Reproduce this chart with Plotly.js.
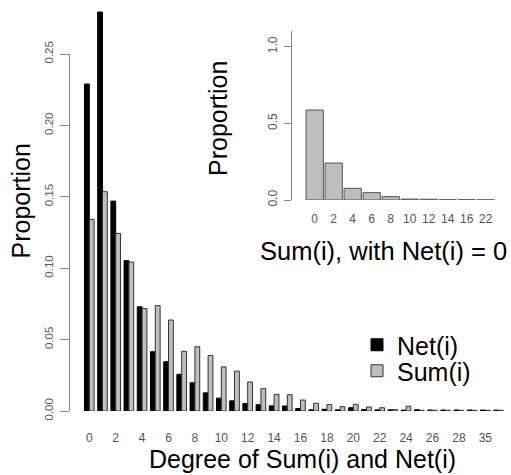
<!DOCTYPE html>
<html>
<head>
<meta charset="utf-8">
<script src="https://cdn.plot.ly/plotly-3.0.1.min.js"></script>
<style>html,body{margin:0;padding:0;background:#fff;}#chart{width:511px;height:475px;}</style>
</head>
<body>
<div id="chart"></div>
<script>
// Main chart: degree categories (every second label shown on axis)
const degreeCats = ["0","1","2","3","4","5","6","7","8","9","10","11","12","13","14","15","16","17","18","19","20","21","22","23","24","25","26","27","28","31","35","40"];
const netValues = [0.229,0.2795,0.147,0.1053,0.073,0.0415,0.0345,0.0257,0.0198,0.0127,0.009,0.0071,0.0052,0.0044,0.0036,0.0035,0.0017,0.0008,0.0012,0.0008,0.0023,0.001,0.0008,0.0008,0.0006,0.0009,0.0007,0.0007,0.0007,0.0007,0.0007,0.0006];
const sumValues = [0.1342,0.1536,0.1244,0.1043,0.0717,0.0738,0.0637,0.0418,0.045,0.0389,0.0309,0.0279,0.0203,0.0157,0.0116,0.0114,0.0077,0.0054,0.0045,0.003,0.0047,0.0028,0.0023,0.0009,0.0033,0.0005,0.0005,0.0005,0.0005,0.0005,0.0005,0.0005];
const degreeTickLabels = ["0","2","4","6","8","10","12","14","16","18","20","22","24","26","28","35"];
const mainYTicks = [0, 0.05, 0.10, 0.15, 0.20, 0.25];
const mainYTickText = ["0.00","0.05","0.10","0.15","0.20","0.25"];

// Inset: Sum(i) distribution for Net(i) = 0
const insetCats = ["0","2","4","6","8","10","12","14","16","22"];
const insetValues = [0.587,0.241,0.076,0.048,0.022,0.006,0.005,0.002,0.002,0.001];
const insetYTicks = [0, 0.5, 1.0];
const insetYTickText = ["0.0","0.5","1.0"];

const W = 511, H = 475;
const FONT = "Liberation Sans, Arial, Helvetica, sans-serif";
const px = v => v / W;
const py = v => (H - v) / H;

const traces = [
  {type:"bar", name:"Net(i)", x:degreeCats, y:netValues, xaxis:"x", yaxis:"y", legend:"legend",
   marker:{color:"#000000", line:{color:"#000000", width:1}}, hoverinfo:"skip"},
  {type:"bar", name:"Sum(i)", x:degreeCats, y:sumValues, xaxis:"x", yaxis:"y", legend:"legend2",
   marker:{color:"#bebebe", line:{color:"#333333", width:1}}, hoverinfo:"skip"},
  {type:"bar", name:"Sum(i), Net(i)=0", x:insetCats, y:insetValues, xaxis:"x2", yaxis:"y2",
   marker:{color:"#bebebe", line:{color:"#555555", width:1}}, showlegend:false, hoverinfo:"skip", offsetgroup:"inset", width:0.91}
];

const legendFont = {size:25, family:FONT, color:"#000"};

const layout = {
  width: W, height: H,
  margin:{l:0, r:0, t:0, b:0},
  paper_bgcolor:"#ffffff", plot_bgcolor:"rgba(0,0,0,0)",
  font:{family:FONT, color:"#000"},
  barmode:"group", bargap:0.27, bargroupgap:0,
  showlegend:true,
  legend:{x:px(357), y:py(345), xanchor:"left", yanchor:"middle", bgcolor:"rgba(0,0,0,0)", font:legendFont},
  legend2:{x:px(357), y:py(371), xanchor:"left", yanchor:"middle", bgcolor:"rgba(0,0,0,0)", font:legendFont},
  xaxis:{domain:[px(69.5), px(505.1)], range:[-1.5, 31.5], type:"category",
         tickmode:"array", tickvals:degreeTickLabels, ticktext:degreeTickLabels,
         showline:false, showgrid:false, zeroline:false, ticks:"", ticklabelstandoff:18,
         tickangle:0, tickfont:{size:12, color:"#555", family:FONT}, anchor:"y", fixedrange:true},
  yaxis:{domain:[py(411), py(11.2)], range:[0, 0.28], tickmode:"array", tickvals:mainYTicks, ticktext:mainYTickText,
         showline:false, showgrid:false, zeroline:false, ticks:"outside", ticklen:9, tickcolor:"#888", tickwidth:1,
         tickangle:-90, tickfont:{size:11.5, color:"#555", family:FONT}, ticklabelstandoff:2, anchor:"x", fixedrange:true},
  xaxis2:{domain:[px(291.7), px(495.2)], range:[-1.21, 9.5], type:"category",
          showline:false, showgrid:false, zeroline:false, ticks:"", ticklabelstandoff:10,
          tickangle:0, tickfont:{size:12, color:"#555", family:FONT}, anchor:"y2", fixedrange:true},
  yaxis2:{domain:[py(200), py(31.4)], range:[0, 1.1], tickmode:"array", tickvals:insetYTicks, ticktext:insetYTickText,
          showline:true, linecolor:"#888", linewidth:1, showgrid:false, zeroline:false,
          ticks:"outside", ticklen:7, tickcolor:"#888", tickwidth:1,
          tickangle:-90, tickfont:{size:12, color:"#555", family:FONT}, ticklabelstandoff:2, anchor:"x2", fixedrange:true},
  shapes:[
    {type:"line", xref:"paper", yref:"y", x0:px(69.5), x1:px(69.5), y0:0, y1:0.25, line:{color:"#888", width:1}}
  ],
  annotations:[
    {text:"Proportion", xref:"paper", yref:"paper", x:px(20), y:py(201.5), showarrow:false, textangle:-90,
     xanchor:"center", yanchor:"middle", font:{size:25, family:FONT, color:"#000"}},
    {text:"Degree of Sum(i) and Net(i)", xref:"paper", yref:"paper", x:px(302), y:py(459), showarrow:false,
     xanchor:"center", yanchor:"middle", font:{size:25, family:FONT, color:"#000"}},
    {text:"Proportion", xref:"paper", yref:"paper", x:px(218), y:py(119), showarrow:false, textangle:-90,
     xanchor:"center", yanchor:"middle", font:{size:25, family:FONT, color:"#000"}},
    {text:"Sum(i), with Net(i) = 0", xref:"paper", yref:"paper", x:px(383), y:py(251), showarrow:false,
     xanchor:"center", yanchor:"middle", font:{size:25.5, family:FONT, color:"#000"}}
  ]
};

Plotly.newPlot("chart", traces, layout, {staticPlot:true, displayModeBar:false});
</script>
</body>
</html>
